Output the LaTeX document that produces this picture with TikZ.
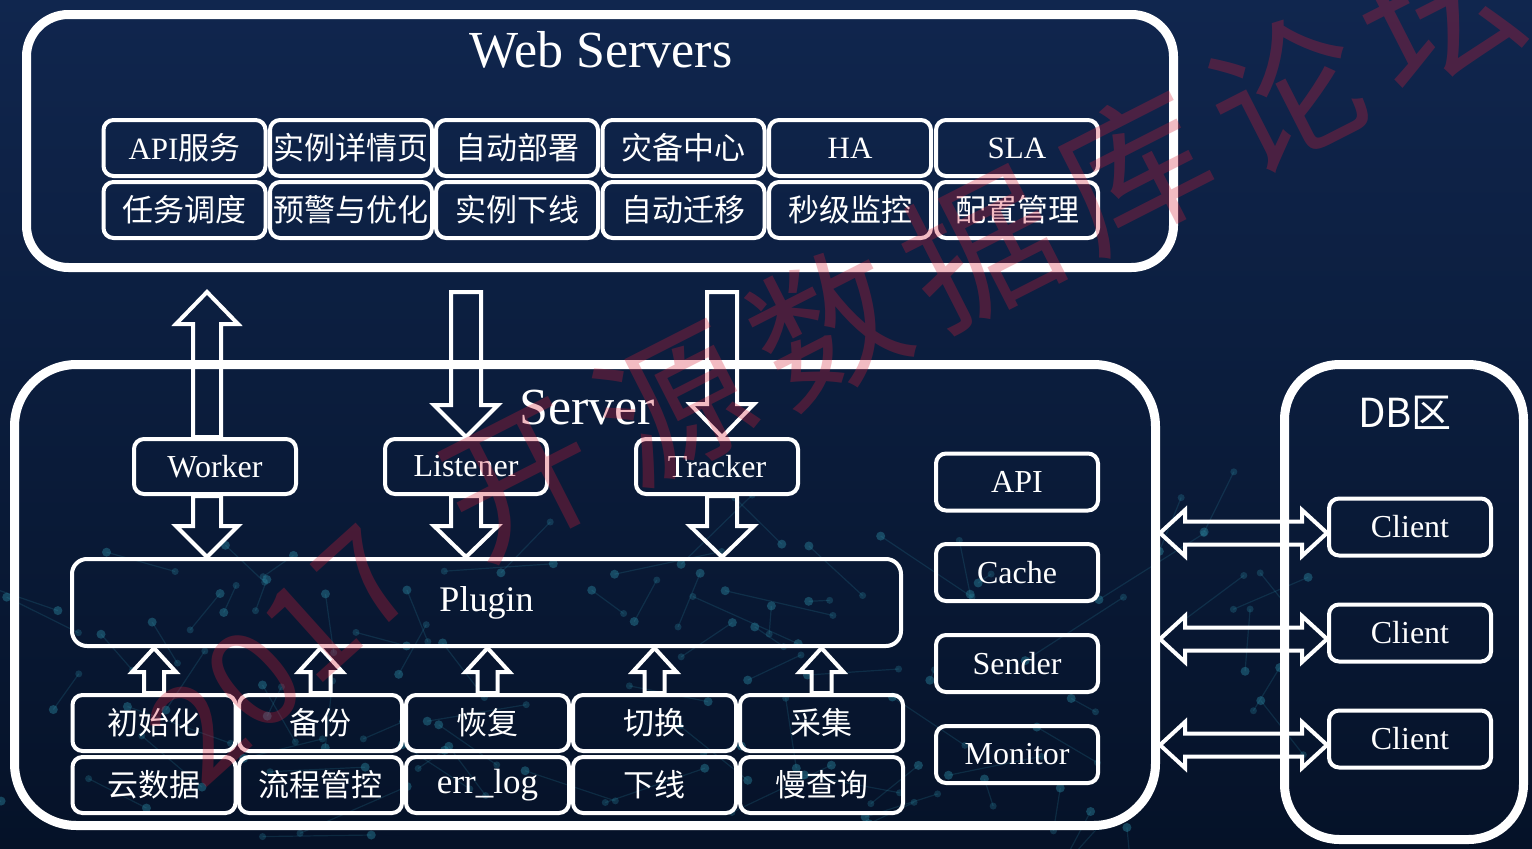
\documentclass[tikz,border=0pt]{standalone}
\usepackage{fontspec}
\setmainfont{Liberation Serif}
\newfontfamily\cjk{Noto Sans CJK SC}
\usetikzlibrary{calc}
\definecolor{bgtop}{RGB}{16,38,78}
\definecolor{bgbot}{RGB}{5,18,40}
\definecolor{netc}{RGB}{45,140,165}
\definecolor{wmred}{RGB}{215,30,55}

\tikzset{
  outerbox/.style={draw=white, line width=9pt, inner sep=0pt},
  cell/.style={draw=white, line width=4pt, rounded corners=10pt, minimum width=162pt,
    minimum height=56pt, inner sep=0pt, text=white, font=\fontsize{31}{31}\selectfont},
  comp/.style={cell, minimum width=162pt, minimum height=55pt, font=\fontsize{32}{32}\selectfont},
  titletext/.style={text=white, inner sep=0pt, font=\fontsize{52}{52}\selectfont},
  blockarrow/.style={draw=white, line width=4pt, line join=miter},
  wmark/.style={text=wmred, text opacity=0.3, inner sep=0pt, font=\cjk\fontsize{150}{150}\selectfont},
}

% vertical block arrow pointing down: tail #1, tip #2, shaft half #3, head half #4, head length #5
\newcommand\vdownarrow[5]{%
  \draw[blockarrow] ($(#1)+(-#3,0)$) -- ($(#2)+(-#3,-#5)$) -- ($(#2)+(-#4,-#5)$) -- (#2)
    -- ($(#2)+(#4,-#5)$) -- ($(#2)+(#3,-#5)$) -- ($(#1)+(#3,0)$) -- cycle;}
% vertical block arrow pointing up
\newcommand\vuparrow[5]{%
  \draw[blockarrow] ($(#1)+(-#3,0)$) -- ($(#2)+(-#3,#5)$) -- ($(#2)+(-#4,#5)$) -- (#2)
    -- ($(#2)+(#4,#5)$) -- ($(#2)+(#3,#5)$) -- ($(#1)+(#3,0)$) -- cycle;}
% horizontal double block arrow: left tip #1, right tip #2
\newcommand\hdoublearrow[5]{%
  \draw[blockarrow] (#1) -- ($(#1)+(#5,-#4)$) -- ($(#1)+(#5,-#3)$) -- ($(#2)+(-#5,-#3)$)
    -- ($(#2)+(-#5,-#4)$) -- (#2) -- ($(#2)+(-#5,#4)$) -- ($(#2)+(-#5,#3)$)
    -- ($(#1)+(#5,#3)$) -- ($(#1)+(#5,#4)$) -- cycle;}

\begin{document}
\begin{tikzpicture}[x=1pt,y=-1pt]
\useasboundingbox (0,0) rectangle (1532,849);
\shade[top color=bgtop, bottom color=bgbot] (0,0) rectangle (1532,849);

% faint network texture in the background
\begin{scope}
\clip (0,0) rectangle (1532,849);
\pgfmathsetseed{11}
\foreach \i in {1,...,85}{
  \pgfmathsetmacro\px{rnd*1320}
  \pgfmathsetmacro\py{530+rnd*310}
  \pgfmathsetmacro\qx{\px+rand*110}
  \pgfmathsetmacro\qy{\py+rand*70}
  \draw[netc, opacity=0.2, line width=1.2pt] (\px,\py) -- (\qx,\qy);
  \fill[netc, opacity=0.42] (\px,\py) circle (4.5pt);
  \fill[netc, opacity=0.28] (\qx,\qy) circle (3.5pt);
}
\end{scope}

% ---------- Web Servers ----------
\node[outerbox, rounded corners=42pt, minimum width=1147pt, minimum height=253pt] (web) at (600,141) {};
\node[titletext] (webtitle) at (601,50) {Web Servers};

\node[cell] (w11) at (184.5,148) {API{\cjk 服务}};
\node[cell] (w12) at (351,148)   {\cjk 实例详情页};
\node[cell] (w13) at (517,148)   {\cjk 自动部署};
\node[cell] (w14) at (683.5,148) {\cjk 灾备中心};
\node[cell] (w15) at (850,148)   {HA};
\node[cell] (w16) at (1017,148)  {SLA};
\node[cell] (w21) at (184.5,210) {\cjk 任务调度};
\node[cell] (w22) at (351,210)   {\cjk 预警与优化};
\node[cell] (w23) at (517,210)   {\cjk 实例下线};
\node[cell] (w24) at (683.5,210) {\cjk 自动迁移};
\node[cell] (w25) at (850,210)   {\cjk 秒级监控};
\node[cell] (w26) at (1017,210)  {\cjk 配置管理};

% ---------- Server ----------
\node[outerbox, rounded corners=62pt, minimum width=1141pt, minimum height=461pt] (server) at (585,595) {};
\node[titletext] (servertitle) at (587,408) {Server};

\node[comp] (worker)   at (215,466.5) {Worker};
\node[comp] (listener) at (466,466.5) {Listener};
\node[comp] (tracker)  at (717,466.5) {Tracker};

\node[cell, minimum width=829pt, minimum height=87pt, rounded corners=15pt,
      font=\fontsize{36}{36}\selectfont] (plugin) at (486.5,602.5) {Plugin};

\node[comp, minimum height=57pt] (api)     at (1017,482)   {API};
\node[comp, minimum height=57pt] (cache)   at (1017,572.5) {Cache};
\node[comp, minimum height=57pt] (sender)  at (1017,663.5) {Sender};
\node[comp, minimum height=57pt] (monitor) at (1017,754.5) {Monitor};

\node[cell, minimum width=163pt] (b11) at (154,723)   {\cjk 初始化};
\node[cell, minimum width=163pt] (b12) at (320.5,723) {\cjk 备份};
\node[cell, minimum width=163pt] (b13) at (487.5,723) {\cjk 恢复};
\node[cell, minimum width=163pt] (b14) at (654.5,723) {\cjk 切换};
\node[cell, minimum width=163pt] (b15) at (821.5,723) {\cjk 采集};
\node[cell, minimum width=163pt] (b21) at (154,785)   {\cjk 云数据};
\node[cell, minimum width=163pt] (b22) at (320.5,785) {\cjk 流程管控};
\node[cell, minimum width=163pt, font=\fontsize{35}{35}\selectfont] (b23) at (487.5,785) {err\_log};
\node[cell, minimum width=163pt] (b24) at (654.5,785) {\cjk 下线};
\node[cell, minimum width=163pt] (b25) at (821.5,785) {\cjk 慢查询};

% ---------- DB area ----------
\node[outerbox, rounded corners=55pt, minimum width=239pt, minimum height=475pt] (db) at (1404,602) {};
\node[text=white, inner sep=0pt, font=\cjk\fontsize{40}{40}\selectfont] (dbtitle) at (1405,413) {DB区};
\node[comp, minimum height=57pt] (c1) at (1410,527) {Client};
\node[comp, minimum height=57pt] (c2) at (1410,633) {Client};
\node[comp, minimum height=57pt] (c3) at (1410,739) {Client};

% ---------- arrows between Web Servers and Server ----------
\coordinate (wsb) at ($(web.south)+(0,20)$);
\coordinate (wkA) at ($(worker.north)+(-8,0)$);
\coordinate (wkB) at (wkA |- wsb);
\vuparrow{wkA}{wkB}{14}{31}{32}

\coordinate (lsA) at (listener.north |- wsb);
\vdownarrow{lsA}{listener.north}{15}{32}{32}

\coordinate (tkB) at ($(tracker.north)+(5,0)$);
\coordinate (tkA) at (tkB |- wsb);
\vdownarrow{tkA}{tkB}{15}{32}{33}

% ---------- arrows to Plugin ----------
\coordinate (wkC) at ($(worker.south)+(-8,0)$);
\coordinate (wkD) at (wkC |- plugin.north);
\vdownarrow{wkC}{wkD}{14}{31}{31}
\coordinate (lsC) at (listener.south);
\coordinate (lsD) at (lsC |- plugin.north);
\vdownarrow{lsC}{lsD}{15}{32}{31}
\coordinate (tkC) at ($(tracker.south)+(5,0)$);
\coordinate (tkD) at (tkC |- plugin.north);
\vdownarrow{tkC}{tkD}{15}{32}{31}

\foreach \k in {1,...,5}{
  \coordinate (up\k) at (b1\k.north |- plugin.south);
  \vuparrow{b1\k.north}{up\k}{10}{22}{24}
}

% ---------- arrows Server <-> Clients ----------
\foreach \k in {1,2,3}{
  \coordinate (cR\k) at ($(c\k.west)+(0,6)$);
  \coordinate (cL\k) at (server.east |- cR\k);
  \hdoublearrow{cL\k}{cR\k}{11.5}{23}{25}
}

% ---------- watermark ----------
\begin{scope}
\clip (0,0) rectangle (1532,849);
\node[wmark, rotate=42, font=\cjk\fontsize{135}{135}\selectfont] (wm0) at (282,655) {2017};
\foreach \c [count=\i from 0] in {开,源,数,据,库,论,坛}{
  \node[wmark, rotate=27] (wm\i) at (522+153*\i,482-78*\i) {\c};
}
\end{scope}
\end{tikzpicture}
\end{document}
